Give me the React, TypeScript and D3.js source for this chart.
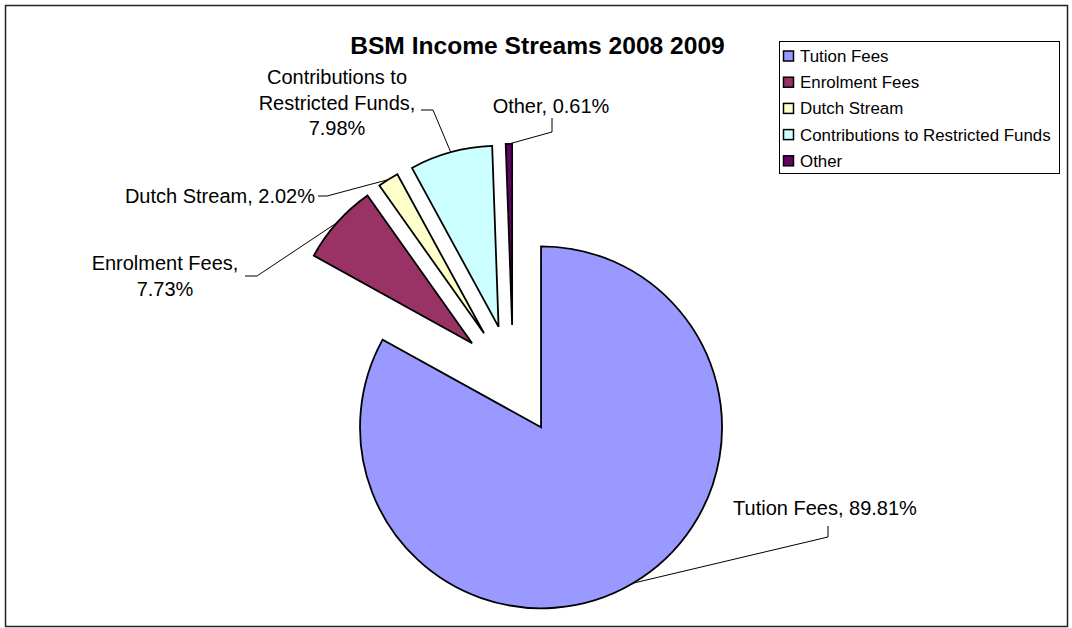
import React from "react";
import * as d3 from "d3";

const categories = [
  "Tution Fees",
  "Enrolment Fees",
  "Dutch Stream",
  "Contributions to Restricted Funds",
  "Other",
];
const values = [89.81, 7.73, 2.02, 7.98, 0.61];
const labelLines = [
  ["Tution Fees, 89.81%"],
  ["Enrolment Fees,", "7.73%"],
  ["Dutch Stream, 2.02%"],
  ["Contributions to", "Restricted Funds,", "7.98%"],
  ["Other, 0.61%"],
];
const title = "BSM Income Streams 2008 2009";

const colors = ["#9999FF", "#993366", "#FFFFCC", "#CCFFFF", "#660066"];

const W = 1072;
const H = 628;
const FONT = "'Liberation Sans', Arial, sans-serif";
const center = { x: 513.1, y: 379.9 };
const R = 181;
const EXPLODE = 55;
const LINE_H = 25.5;

// label layout: anchor point, text-anchor, leader start segment
const labelLayout = [
  { x: 825, y: 515, anchor: "middle", leader: [[828, 526], [828, 537]] },
  { x: 165, y: 270, anchor: "middle", leader: [[245, 276], [257, 276]] },
  { x: 315, y: 203, anchor: "end", leader: [[318, 196], [327, 196]] },
  { x: 337, y: 84, anchor: "middle", leader: [[421, 110], [433, 110]] },
  { x: 551, y: 113, anchor: "middle", leader: [[552, 118], [552, 132]] },
];

export default function App() {
  const pie = d3
    .pie<number>()
    .sort(null)
    .startAngle(0)
    .endAngle(2 * Math.PI)
    .value((d) => d);
  const arcs = pie(values);
  const arc = d3.arc<d3.PieArcDatum<number>>().innerRadius(0).outerRadius(R);

  const slices = arcs.map((a, i) => {
    const mid = (a.startAngle + a.endAngle) / 2;
    const cx = center.x + EXPLODE * Math.sin(mid);
    const cy = center.y - EXPLODE * Math.cos(mid);
    const ex = cx + R * Math.sin(mid);
    const ey = cy - R * Math.cos(mid);
    return { a, i, cx, cy, ex, ey };
  });

  const legendX = 779.5;
  const legendY = 41.5;
  const legendStep = 26.2;

  return (
    <svg
      width={W}
      height={H}
      style={{ position: "fixed", left: 0, top: 0, background: "#fff" }}
      fontFamily={FONT}
    >
      <rect x={0} y={0} width={W} height={H} fill="#fff" />
      <rect x={5.5} y={5.5} width={1062} height={621} fill="#fff" stroke="#222" strokeWidth={1.5} />

      <text x={537.5} y={54} textAnchor="middle" fontSize={24.6} fontWeight="bold" fill="#000">
        {title}
      </text>

      {slices.map(({ a, i, cx, cy }) => (
        <path
          key={"s" + i}
          d={arc(a) || ""}
          transform={`translate(${cx},${cy})`}
          fill={colors[i]}
          stroke="#000"
          strokeWidth={1.8}
          strokeLinejoin="miter"
        />
      ))}

      {slices.map(({ i, ex, ey }) => {
        const L = labelLayout[i];
        const pts = [...L.leader, [ex, ey]];
        const line = d3.line()(pts as [number, number][]);
        return <path key={"l" + i} d={line || ""} fill="none" stroke="#000" strokeWidth={1} />;
      })}

      {labelLines.map((lines, i) => {
        const L = labelLayout[i];
        return (
          <text key={"t" + i} x={L.x} y={L.y} textAnchor={L.anchor as any} fontSize={20} fill="#000">
            {lines.map((ln, j) => (
              <tspan key={j} x={L.x} dy={j === 0 ? 0 : LINE_H}>
                {ln}
              </tspan>
            ))}
          </text>
        );
      })}

      <rect x={legendX} y={legendY} width={280} height={132} fill="#fff" stroke="#000" strokeWidth={1} />
      {categories.map((c, i) => {
        const cy = 56 + i * legendStep;
        return (
          <g key={"g" + i}>
            <rect x={783.5} y={cy - 5} width={10} height={10} fill={colors[i]} stroke="#000" strokeWidth={1.5} />
            <text x={800} y={cy + 6} fontSize={16.9} fill="#000">
              {c}
            </text>
          </g>
        );
      })}
    </svg>
  );
}
